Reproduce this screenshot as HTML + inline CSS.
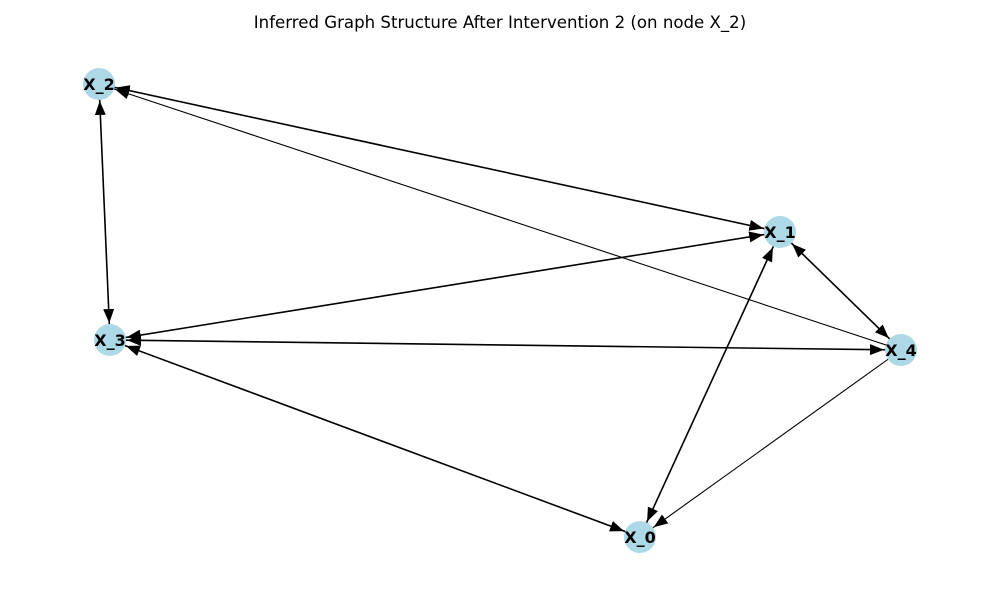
<!DOCTYPE html>
<html><head><meta charset="utf-8"><style>
html,body{margin:0;padding:0;background:#fff;}
svg{display:block;}
</style></head><body>
<svg width="1000" height="600" xmlns="http://www.w3.org/2000/svg">
<defs>
<marker id="a" markerUnits="userSpaceOnUse" markerWidth="40" markerHeight="12" refX="31" refY="6" orient="auto-start-reverse" viewBox="0 0 40 12">
<path d="M0,0.5 L14,6 L0,11.5 z" fill="#000"/>
</marker>
</defs>
<text x="500" y="28" text-anchor="middle" font-family="DejaVu Sans, sans-serif" font-size="16.6" fill="#000">Inferred Graph Structure After Intervention 2 (on node X_2)</text>
<g stroke="#000" stroke-width="1.6" fill="none">
<line x1="99" y1="84" x2="780" y2="232" marker-start="url(#a)" marker-end="url(#a)"/>
<line x1="99" y1="84" x2="110" y2="340" marker-start="url(#a)" marker-end="url(#a)"/>
<line x1="780" y1="232" x2="110" y2="340" marker-start="url(#a)" marker-end="url(#a)"/>
<line x1="780" y1="232" x2="640" y2="537" marker-start="url(#a)" marker-end="url(#a)"/>
<line x1="780" y1="232" x2="901" y2="350" marker-start="url(#a)" marker-end="url(#a)"/>
<line x1="110" y1="340" x2="901" y2="350" marker-start="url(#a)" marker-end="url(#a)"/>
<line x1="110" y1="340" x2="640" y2="537" marker-start="url(#a)" marker-end="url(#a)"/>
</g>
<g stroke="#000" stroke-width="1.1" fill="none">
<line x1="901" y1="350" x2="99" y2="84" marker-end="url(#a)"/>
<line x1="901" y1="350" x2="640" y2="537" marker-end="url(#a)"/>
</g>
<g fill="#add8e6">
<circle cx="99" cy="84" r="16"/>
<circle cx="780" cy="232" r="16"/>
<circle cx="110" cy="340" r="16"/>
<circle cx="901" cy="350" r="16"/>
<circle cx="640" cy="537" r="16"/>
</g>
<g font-family="DejaVu Sans, sans-serif" font-size="16" font-weight="bold" text-anchor="middle" fill="#000">
<text x="99" y="90">X_2</text>
<text x="780" y="238">X_1</text>
<text x="110" y="346">X_3</text>
<text x="901" y="356">X_4</text>
<text x="640" y="543">X_0</text>
</g>
</svg>
</body></html>
